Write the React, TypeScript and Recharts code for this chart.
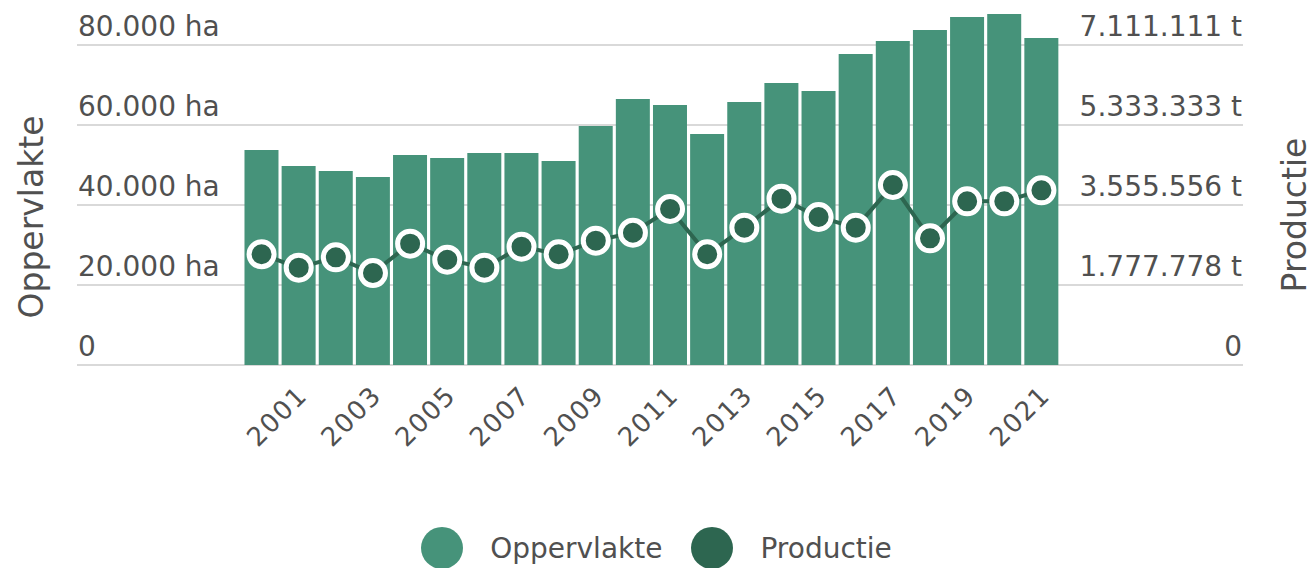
import React from 'react';
import { ComposedChart, Bar, Line, XAxis, YAxis, CartesianGrid, Legend } from 'recharts';

const years = ['2000','2001','2002','2003','2004','2005','2006','2007','2008','2009','2010','2011','2012','2013','2014','2015','2016','2017','2018','2019','2020','2021'];
const oppervlakte = [53750, 49750, 48500, 47000, 52500, 51750, 53000, 53000, 51000, 59750, 66500, 65000, 57750, 65750, 70500, 68500, 77750, 81000, 83750, 87000, 87750, 81750];
const productie = [2460000, 2163000, 2393000, 2044000, 2696000, 2340000, 2163000, 2630000, 2460000, 2763000, 2940000, 3467000, 2460000, 3052000, 3696000, 3289000, 3052000, 4000000, 2815000, 3637000, 3637000, 3882000];
const xTickLabels = ['2001','2003','2005','2007','2009','2011','2013','2015','2017','2019','2021'];
const leftTicks = [0, 20000, 40000, 60000, 80000];
const rightTicks = [0, 1777778, 3555556, 5333333, 7111111];
const leftDomain = [0, 90000];
const rightDomain = [0, 8000000];

const data = years.map((y, i) => ({ year: y, Oppervlakte: oppervlakte[i], Productie: productie[i] }));

const W = 1313;
const H = 568;
const LEFT_W = 243;
const RIGHT_W = 253;
const GRID_X0 = 77;
const GRID_X1 = 1243;
const FONT = '"DejaVu Sans", sans-serif';
const TEXT = '#505050';
const GRID = '#d9d9d9';
const BAR = '#46937a';
const DARK = '#2d6650';

const fmt = (v: number) => String(Math.round(v)).replace(/\B(?=(\d{3})+(?!\d))/g, '.');

const LeftTick = (props: any) => {
  const { y, payload } = props;
  const v = payload.value;
  return (
    <g>
      <line x1={GRID_X0} x2={LEFT_W} y1={y} y2={y} stroke={GRID} strokeWidth={2} />
      <text x={78} y={y - 9} fill={TEXT} fontSize={28} fontFamily={FONT} textAnchor="start">
        {v === 0 ? '0' : `${fmt(v)} ha`}
      </text>
    </g>
  );
};

const RightTick = (props: any) => {
  const { y, payload } = props;
  const v = payload.value;
  return (
    <g>
      <line x1={W - RIGHT_W} x2={GRID_X1} y1={y} y2={y} stroke={GRID} strokeWidth={2} />
      <text x={1242} y={y - 9} fill={TEXT} fontSize={28} fontFamily={FONT} textAnchor="end">
        {v === 0 ? '0' : `${fmt(v)} t`}
      </text>
    </g>
  );
};

const XTick = (props: any) => {
  const { x, y, payload } = props;
  if (!xTickLabels.includes(String(payload.value))) return <g />;
  const ax = x + 10;
  const ay = y + 32;
  return (
    <text x={ax} y={ay} transform={`rotate(-45 ${ax} ${ay})`} textAnchor="end" fill={TEXT} fontSize={26} fontFamily={FONT} letterSpacing={1.5}>
      {payload.value}
    </text>
  );
};

const LegendContent = (props: any) => {
  const { payload } = props;
  return (
    <div style={{ display: 'flex', justifyContent: 'center', alignItems: 'flex-start', height: 48, paddingTop: 7, boxSizing: 'border-box' }}>
      {(payload || []).map((p: any, i: number) => (
        <div key={i} style={{ display: 'flex', alignItems: 'center', marginRight: i === 0 ? 29 : 0 }}>
          <div style={{ width: 42, height: 42, borderRadius: 21, background: p.color, marginRight: 27 }} />
          <span style={{ fontFamily: FONT, fontSize: 28, color: TEXT }}>{p.value}</span>
        </div>
      ))}
    </div>
  );
};

const LeftTitle = () => (
  <text x={43} y={217} transform="rotate(-90 43 217)" textAnchor="middle" fill={TEXT} fontSize={33} fontFamily={FONT}>
    Oppervlakte
  </text>
);

const RightTitle = () => (
  <text x={1306} y={215} transform="rotate(-90 1306 215)" textAnchor="middle" fill={TEXT} fontSize={33} fontFamily={FONT}>
    Productie
  </text>
);

export default function App() {
  return (
    <div style={{ position: 'absolute', left: 0, top: 0, width: W, height: H, background: '#fff' }}>
      <ComposedChart width={W} height={H} data={data} margin={{ top: 5, right: 0, bottom: 0, left: 0 }} barCategoryGap="4%">
        <CartesianGrid vertical={false} horizontalValues={leftTicks} stroke={GRID} strokeWidth={2} />
        <XAxis dataKey="year" interval={0} tick={<XTick />} tickLine={false} axisLine={false} tickSize={0} tickMargin={0} height={155} />
        <YAxis domain={leftDomain} ticks={leftTicks} width={LEFT_W} tick={<LeftTick />} tickLine={false} axisLine={false} allowDataOverflow label={<LeftTitle />} />
        <YAxis yAxisId="right" orientation="right" domain={rightDomain} ticks={rightTicks} width={RIGHT_W} tick={<RightTick />} tickLine={false} axisLine={false} allowDataOverflow label={<RightTitle />} />
        <Legend verticalAlign="bottom" content={<LegendContent />} />
        <Bar dataKey="Oppervlakte" fill={BAR} isAnimationActive={false} />
        <Line yAxisId="right" dataKey="Productie" stroke={DARK} strokeWidth={4} dot={{ r: 12.5, fill: DARK, stroke: '#fff', strokeWidth: 5 }} activeDot={false} isAnimationActive={false} />
      </ComposedChart>
    </div>
  );
}
